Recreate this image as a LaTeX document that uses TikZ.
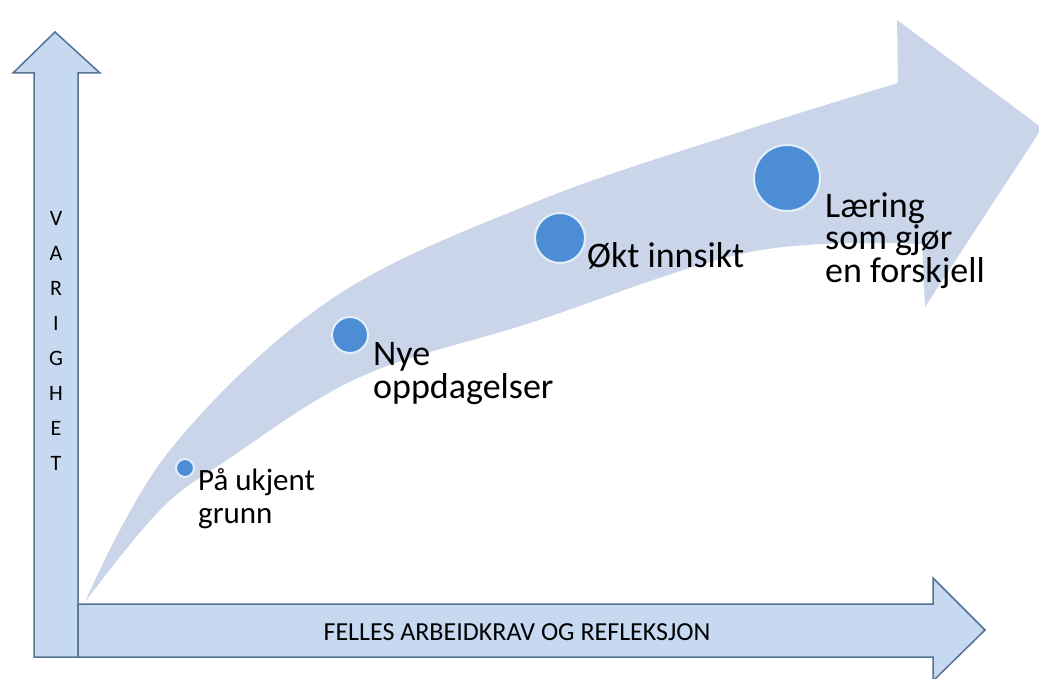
\documentclass[tikz,border=0pt]{standalone}
\usepackage{fontspec}
\setmainfont{Carlito}
\definecolor{axisfill}{RGB}{198,217,241}
\definecolor{axisline}{RGB}{84,113,150}
\definecolor{flowfill}{RGB}{203,213,234}
\definecolor{dotfill}{RGB}{77,141,214}
\definecolor{dotline}{RGB}{226,240,250}
\tikzstyle{axisarrow} = [draw=axisline, line width=1.5pt, fill=axisfill, line join=miter]
\tikzstyle{dot} = [circle, draw=dotline, line width=2pt, fill=dotfill, inner sep=0pt]
\tikzstyle{stage} = [anchor=base west, align=left, inner sep=0pt, font=\fontsize{36}{33}\selectfont]
\tikzstyle{axislabel} = [anchor=base, align=center, inner sep=0pt]

\begin{document}
\begin{tikzpicture}[x=1pt, y=-1pt]
    \useasboundingbox (0,0) rectangle (1039,679);
    \clip (0,0) rectangle (1039,679);
    % the big curved arrow
    \fill[flowfill] plot[smooth, tension=0.6] coordinates {(85,602) (170,450) (330,300) (533,203) (740,132) (898,83)}
        -- (897,20) -- (1042,128) -- (925,307) -- (922,244)
        -- plot[smooth, tension=0.6] coordinates {(922,244) (750,252) (530,323) (360,377) (227,460) (160,510) (85,602)} -- cycle;
    % the two axes
    \draw[axisarrow] (34,657) -- (34,73) -- (13,73) -- (55,32) -- (100,73) -- (78,73) -- (78,657) -- cycle;
    \draw[axisarrow] (78,604) -- (933,604) -- (933,578) -- (985,630) -- (933,681) -- (933,657) -- (78,657) -- cycle;
    % Place nodes (base is on the last line)
    \node[dot, minimum size=18pt] (dot1) at (185,468) {};
    \node[dot, minimum size=36pt] (dot2) at (350,335) {};
    \node[dot, minimum size=50pt] (dot3) at (560,238) {};
    \node[dot, minimum size=66pt] (dot4) at (787,178) {};
    \node[stage, font=\fontsize{31}{33}\selectfont] (unknown) at (198,523) {På ukjent\\grunn};
    \node[stage] (discover) at (373,398) {Nye\\oppdagelser};
    \node[stage] (insight) at (587,268) {Økt innsikt};
    \node[stage] (learning) at (825,283) {Læring\\som gjør\\en forskjell};
    % the labels on the axes
    \node[axislabel, font=\fontsize{22}{35}\selectfont] (duration) at (56,470) {V\\A\\R\\I\\G\\H\\E\\T};
    \node[axislabel, font=\fontsize{26}{30}\selectfont] (work) at (517,640) {FELLES ARBEIDKRAV OG REFLEKSJON};
\end{tikzpicture}
\end{document}
